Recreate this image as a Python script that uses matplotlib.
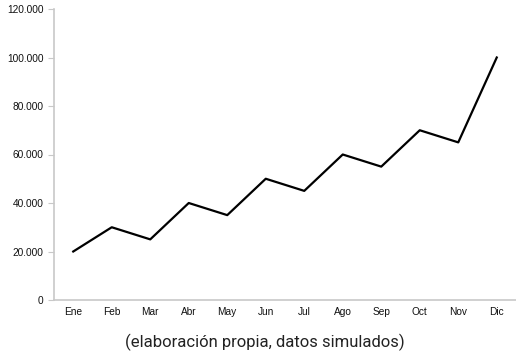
import matplotlib
matplotlib.use("Agg")
import matplotlib.pyplot as plt
from matplotlib.ticker import FuncFormatter

months = ["Ene", "Feb", "Mar", "Abr", "May", "Jun", "Jul", "Ago", "Sep", "Oct", "Nov", "Dic"]
values = [20000, 30000, 25000, 40000, 35000, 50000, 45000, 60000, 55000, 70000, 65000, 100000]
yticks = [0, 20000, 40000, 60000, 80000, 100000, 120000]

fig = plt.figure(figsize=(5.16, 3.53), dpi=100)
ax = fig.add_axes([54/516, 53/353, 462/516, 291/353])
x = list(range(len(months)))
ax.plot(x, values, color="black", linewidth=1.6)
ax.set_xlim(-0.5, len(months) - 0.5)
ax.set_ylim(0, 120000)
ax.set_yticks(yticks)
ax.yaxis.set_major_formatter(FuncFormatter(lambda v, p: f"{int(v):,}".replace(",", ".")))
ax.set_xticks(x)
ax.set_xticklabels(months)
for s in ["top", "right"]:
    ax.spines[s].set_visible(False)
for s in ["left", "bottom"]:
    ax.spines[s].set_color("#c8c8c8")
    ax.spines[s].set_linewidth(1.2)
ax.tick_params(axis="y", length=4, color="#c8c8c8", labelsize=7.3, pad=3.5, labelcolor="#111111")
ax.tick_params(axis="x", length=0, labelsize=7.3, pad=5, labelcolor="#111111")
for lbl in ax.get_xticklabels() + ax.get_yticklabels():
    lbl.set_fontfamily(["Liberation Sans", "DejaVu Sans"])
fig.text(265/516, 1 - 342/353, "(elaboración propia, datos simulados)",
         ha="center", va="center", fontsize=12,
         family=["Roboto", "DejaVu Sans"], color="#222222")
fig.savefig("out.png", dpi=100)
